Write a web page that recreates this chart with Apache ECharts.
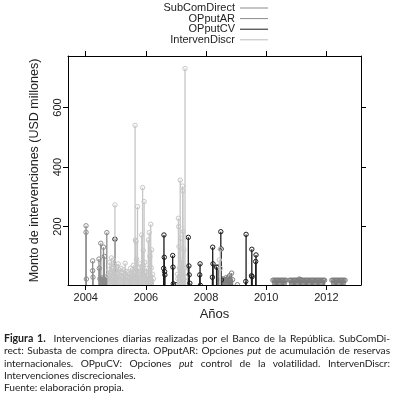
<!DOCTYPE html>
<html>
<head>
<meta charset="utf-8">
<script src="https://cdn.jsdelivr.net/npm/echarts@6/dist/echarts.min.js"></script>
<style>
  html, body { margin: 0; padding: 0; background: #fff; }
  #chart { position: absolute; left: 0; top: 0; width: 394px; height: 403px; }
  #cap { position: absolute; left: 4px; top: 332px; width: 386px; font-family: Lato, "Liberation Sans", sans-serif; font-size: 10.2px; letter-spacing: -0.05px; line-height: 12.3px; color: #222; }
  #cap .j { text-align: justify; text-align-last: justify; white-space: nowrap; }
  #cap .l { text-align: left; white-space: nowrap; }
  #cap b { font-size: 10.6px; }
</style>
</head>
<body>
<div id="chart"></div>
<div id="cap">
  <div class="j"><b>Figura 1.</b>&nbsp; Intervenciones diarias realizadas por el Banco de la República. SubComDi-</div>
  <div class="j">rect: Subasta de compra directa. OPputAR: Opciones <i>put</i> de acumulación de reservas</div>
  <div class="j">internacionales. OPpuCV: Opciones <i>put</i> control de la volatilidad. IntervenDiscr:</div>
  <div class="l">Intervenciones discrecionales.</div>
  <div class="l">Fuente: elaboración propia.</div>
</div>
<script>
// ---- Data (decimal years, USD millions) ----
const seriesNames = ['SubComDirect', 'OPputAR', 'OPputCV', 'IntervenDiscr'];

const subComYears = [2008.48, 2008.51, 2008.54, 2008.57, 2008.60, 2008.63, 2008.66, 2008.69, 2008.72, 2008.75, 2008.78, 2008.81, 2008.85, 2008.88, 2009.04,
  2010.22, 2010.26, 2010.30, 2010.34, 2010.38, 2010.42, 2010.46, 2010.50, 2010.54, 2010.58, 2010.62, 2010.66,
  2010.78, 2010.82, 2010.86, 2010.90, 2010.94, 2010.98, 2011.02, 2011.06, 2011.10, 2011.14, 2011.18, 2011.22, 2011.26, 2011.30, 2011.34,
  2011.38, 2011.42, 2011.46, 2011.50, 2011.54, 2011.58, 2011.62, 2011.66, 2011.70, 2011.74, 2011.78, 2011.82, 2011.86, 2011.90, 2011.94,
  2012.18, 2012.22, 2012.26, 2012.30, 2012.34, 2012.38, 2012.42, 2012.46, 2012.50, 2012.54, 2012.58, 2012.62];
const subComValues = [22, 18, 25, 20, 15, 22, 28, 20, 24, 30, 35, 20, 44, 22, 5,
  20, 20, 20, 20, 20, 20, 20, 20, 20, 20, 20, 20,
  20, 20, 20, 20, 20, 20, 20, 20, 24, 22, 20, 20, 20, 20, 20,
  20, 20, 20, 20, 20, 20, 20, 20, 20, 20, 20, 20, 20, 20, 20,
  20, 20, 20, 20, 20, 20, 20, 20, 20, 20, 20, 20];

const opArYears = [2004.01, 2004.01, 2004.02, 2004.23, 2004.23, 2004.24, 2004.44, 2004.45, 2004.47, 2004.50, 2004.52, 2004.55, 2004.57,
  2004.59, 2004.60, 2004.62, 2004.64, 2004.66, 2004.68, 2004.70, 2004.72];
const opArValues = [203, 181, 24, 85, 52, 30, 91, 60, 25, 144, 22, 28, 20, 131, 25, 100, 22, 30, 20, 180, 24];

const opCvYears = [2004.97, 2006.59, 2006.60, 2006.61, 2006.62, 2006.63, 2006.89, 2006.90, 2006.91, 2007.00, 2007.41, 2007.43, 2007.44,
  2007.46, 2007.79, 2007.80, 2007.81, 2008.21, 2008.22, 2008.23, 2008.35, 2008.40, 2008.49, 2008.50, 2008.51, 2009.32, 2009.33,
  2009.51, 2009.52, 2009.53, 2009.65, 2009.66];
const opCvValues = [158, 60, 172, 97, 49, 38, 103, 64, 8, 5, 164, 68, 38, 10, 38, 75, 3, 30, 131, 75, 64, 64, 183, 125, 21, 16, 174,
  35, 124, 32, 83, 105];

const discYears = [2004.74, 2004.77, 2004.80, 2004.82, 2004.85, 2004.88, 2004.90, 2004.92, 2004.95, 2004.97, 2004.99, 2005.02, 2005.05,
  2005.08, 2005.11, 2005.14, 2005.17, 2005.20, 2005.23, 2005.26, 2005.29, 2005.31, 2005.34, 2005.37, 2005.40, 2005.43, 2005.46,
  2005.49, 2005.52, 2005.55, 2005.58, 2005.61, 2005.64, 2005.65, 2005.67, 2005.69, 2005.72, 2005.75, 2005.78, 2005.81, 2005.84,
  2005.86, 2005.89, 2005.91, 2005.94, 2005.96, 2005.99, 2006.02, 2006.05, 2006.08, 2006.11, 2006.13, 2006.16, 2006.18, 2006.19,
  2006.22, 2006.25,
  2007.05, 2007.06, 2007.08, 2007.09, 2007.10, 2007.12, 2007.14, 2007.16, 2007.18, 2007.20, 2007.22, 2007.23, 2007.24, 2007.26,
  2007.28, 2007.30, 2007.32,
  2008.44, 2008.47, 2008.48];
const discValues = [35, 55, 80, 45, 95, 60, 30, 88, 70, 273, 50, 65, 40,
  75, 55, 35, 60, 45, 30, 55, 40, 77, 50, 30, 45, 25, 40,
  60, 35, 55, 70, 45, 540, 155, 150, 90, 267, 60, 40, 75, 50,
  172, 331, 120, 284, 80, 45, 60, 35, 155, 180, 100, 208, 62, 122,
  40, 25,
  40, 25, 228, 200, 133, 60, 356, 161, 88, 45, 336, 320, 183, 122,
  60, 731, 30,
  88, 124, 60];

const xTicks = [2004, 2006, 2008, 2010, 2012];
const yTicks = [200, 400, 600];

// ---- Axis ranges ----
const X_MIN = 2003.41, X_MAX = 2013.15;
const Y_MIN = 4, Y_MAX = 773;

const colors = { SubComDirect: '#7d7d7d', OPputAR: '#8c8c8c', OPputCV: '#1c1c1c', IntervenDiscr: '#c6c6c6' };
const legendColors = { SubComDirect: '#8a8a8a', OPputAR: '#8a8a8a', OPputCV: '#1c1c1c', IntervenDiscr: '#bdbdbd' };

function pairs(xs, ys) { return xs.map((x, i) => [x, ys[i]]); }
const dataSets = {
  SubComDirect: pairs(subComYears, subComValues),
  OPputAR: pairs(opArYears, opArValues),
  OPputCV: pairs(opCvYears, opCvValues),
  IntervenDiscr: pairs(discYears, discValues)
};

function makeRender(color) {
  return function (params, api) {
    const x = api.value(0), v = api.value(1);
    const top = api.coord([x, v]);
    const base = api.coord([x, Y_MIN]);
    return {
      type: 'group',
      children: [
        { type: 'line', shape: { x1: top[0], y1: base[1], x2: top[0], y2: top[1] }, style: { stroke: color, lineWidth: 1.3 } },
        { type: 'circle', shape: { cx: top[0], cy: top[1], r: 2.2 }, style: { fill: null, stroke: color, lineWidth: 1 } }
      ]
    };
  };
}

const FONT = 'Liberation Sans, Arial, sans-serif';
const axisLineStyle = { color: '#000', width: 1 };

const chart = echarts.init(document.getElementById('chart'), null, { renderer: 'canvas' });
const option = {
  backgroundColor: '#fff',
  animation: false,
  grid: { left: 68, top: 56, width: 293, height: 229, containLabel: false },
  legend: seriesNames.map((n, i) => ({
    data: [{ name: n, icon: 'rect', itemStyle: { color: legendColors[n] } }],
    right: 126,
    top: 2.5 + i * 10.6,
    align: 'right',
    orient: 'vertical',
    itemWidth: 28,
    itemHeight: 1,
    padding: 0,
    selectedMode: false,
    textStyle: { fontFamily: FONT, fontSize: 11, color: '#222', padding: [0, 0, 0, 0] }
  })),
  xAxis: [
    {
      type: 'value', min: X_MIN, max: X_MAX, position: 'bottom',
      axisLine: { show: true, onZero: false, lineStyle: axisLineStyle },
      axisTick: { show: true, customValues: xTicks, length: 5, lineStyle: axisLineStyle },
      axisLabel: { customValues: xTicks, formatter: v => String(Math.round(v)), fontFamily: FONT, fontSize: 11, color: '#222', margin: 7 },
      splitLine: { show: false },
      name: 'Años', nameLocation: 'middle', nameGap: 21,
      nameTextStyle: { fontFamily: FONT, fontSize: 13, color: '#222' }
    },
    {
      type: 'value', min: X_MIN, max: X_MAX, position: 'top',
      axisLine: { show: true, onZero: false, lineStyle: axisLineStyle },
      axisTick: { show: true, customValues: xTicks, length: 5, lineStyle: axisLineStyle },
      axisLabel: { show: false },
      splitLine: { show: false }
    }
  ],
  yAxis: [
    {
      type: 'value', min: Y_MIN, max: Y_MAX, position: 'left',
      axisLine: { show: true, onZero: false, lineStyle: axisLineStyle },
      axisTick: { show: true, customValues: yTicks, length: 5, lineStyle: axisLineStyle },
      axisLabel: { customValues: yTicks, formatter: v => String(Math.round(v)), rotate: 90, fontFamily: FONT, fontSize: 11, color: '#222', margin: 5 },
      splitLine: { show: false },
      name: 'Monto de intervenciones (USD millones)', nameLocation: 'middle', nameGap: 27,
      nameTextStyle: { fontFamily: FONT, fontSize: 12.5, color: '#222' }
    },
    {
      type: 'value', min: Y_MIN, max: Y_MAX, position: 'right',
      axisLine: { show: true, onZero: false, lineStyle: axisLineStyle },
      axisTick: { show: true, customValues: yTicks, length: 5, lineStyle: axisLineStyle },
      axisLabel: { show: false },
      splitLine: { show: false }
    }
  ],
  series: seriesNames.map(n => ({
    name: n,
    type: 'custom',
    xAxisIndex: 0,
    yAxisIndex: 0,
    clip: true,
    itemStyle: { color: legendColors[n] },
    encode: { x: 0, y: 1 },
    renderItem: makeRender(colors[n]),
    data: dataSets[n]
  }))
};
chart.setOption(option);
</script>
</body>
</html>
